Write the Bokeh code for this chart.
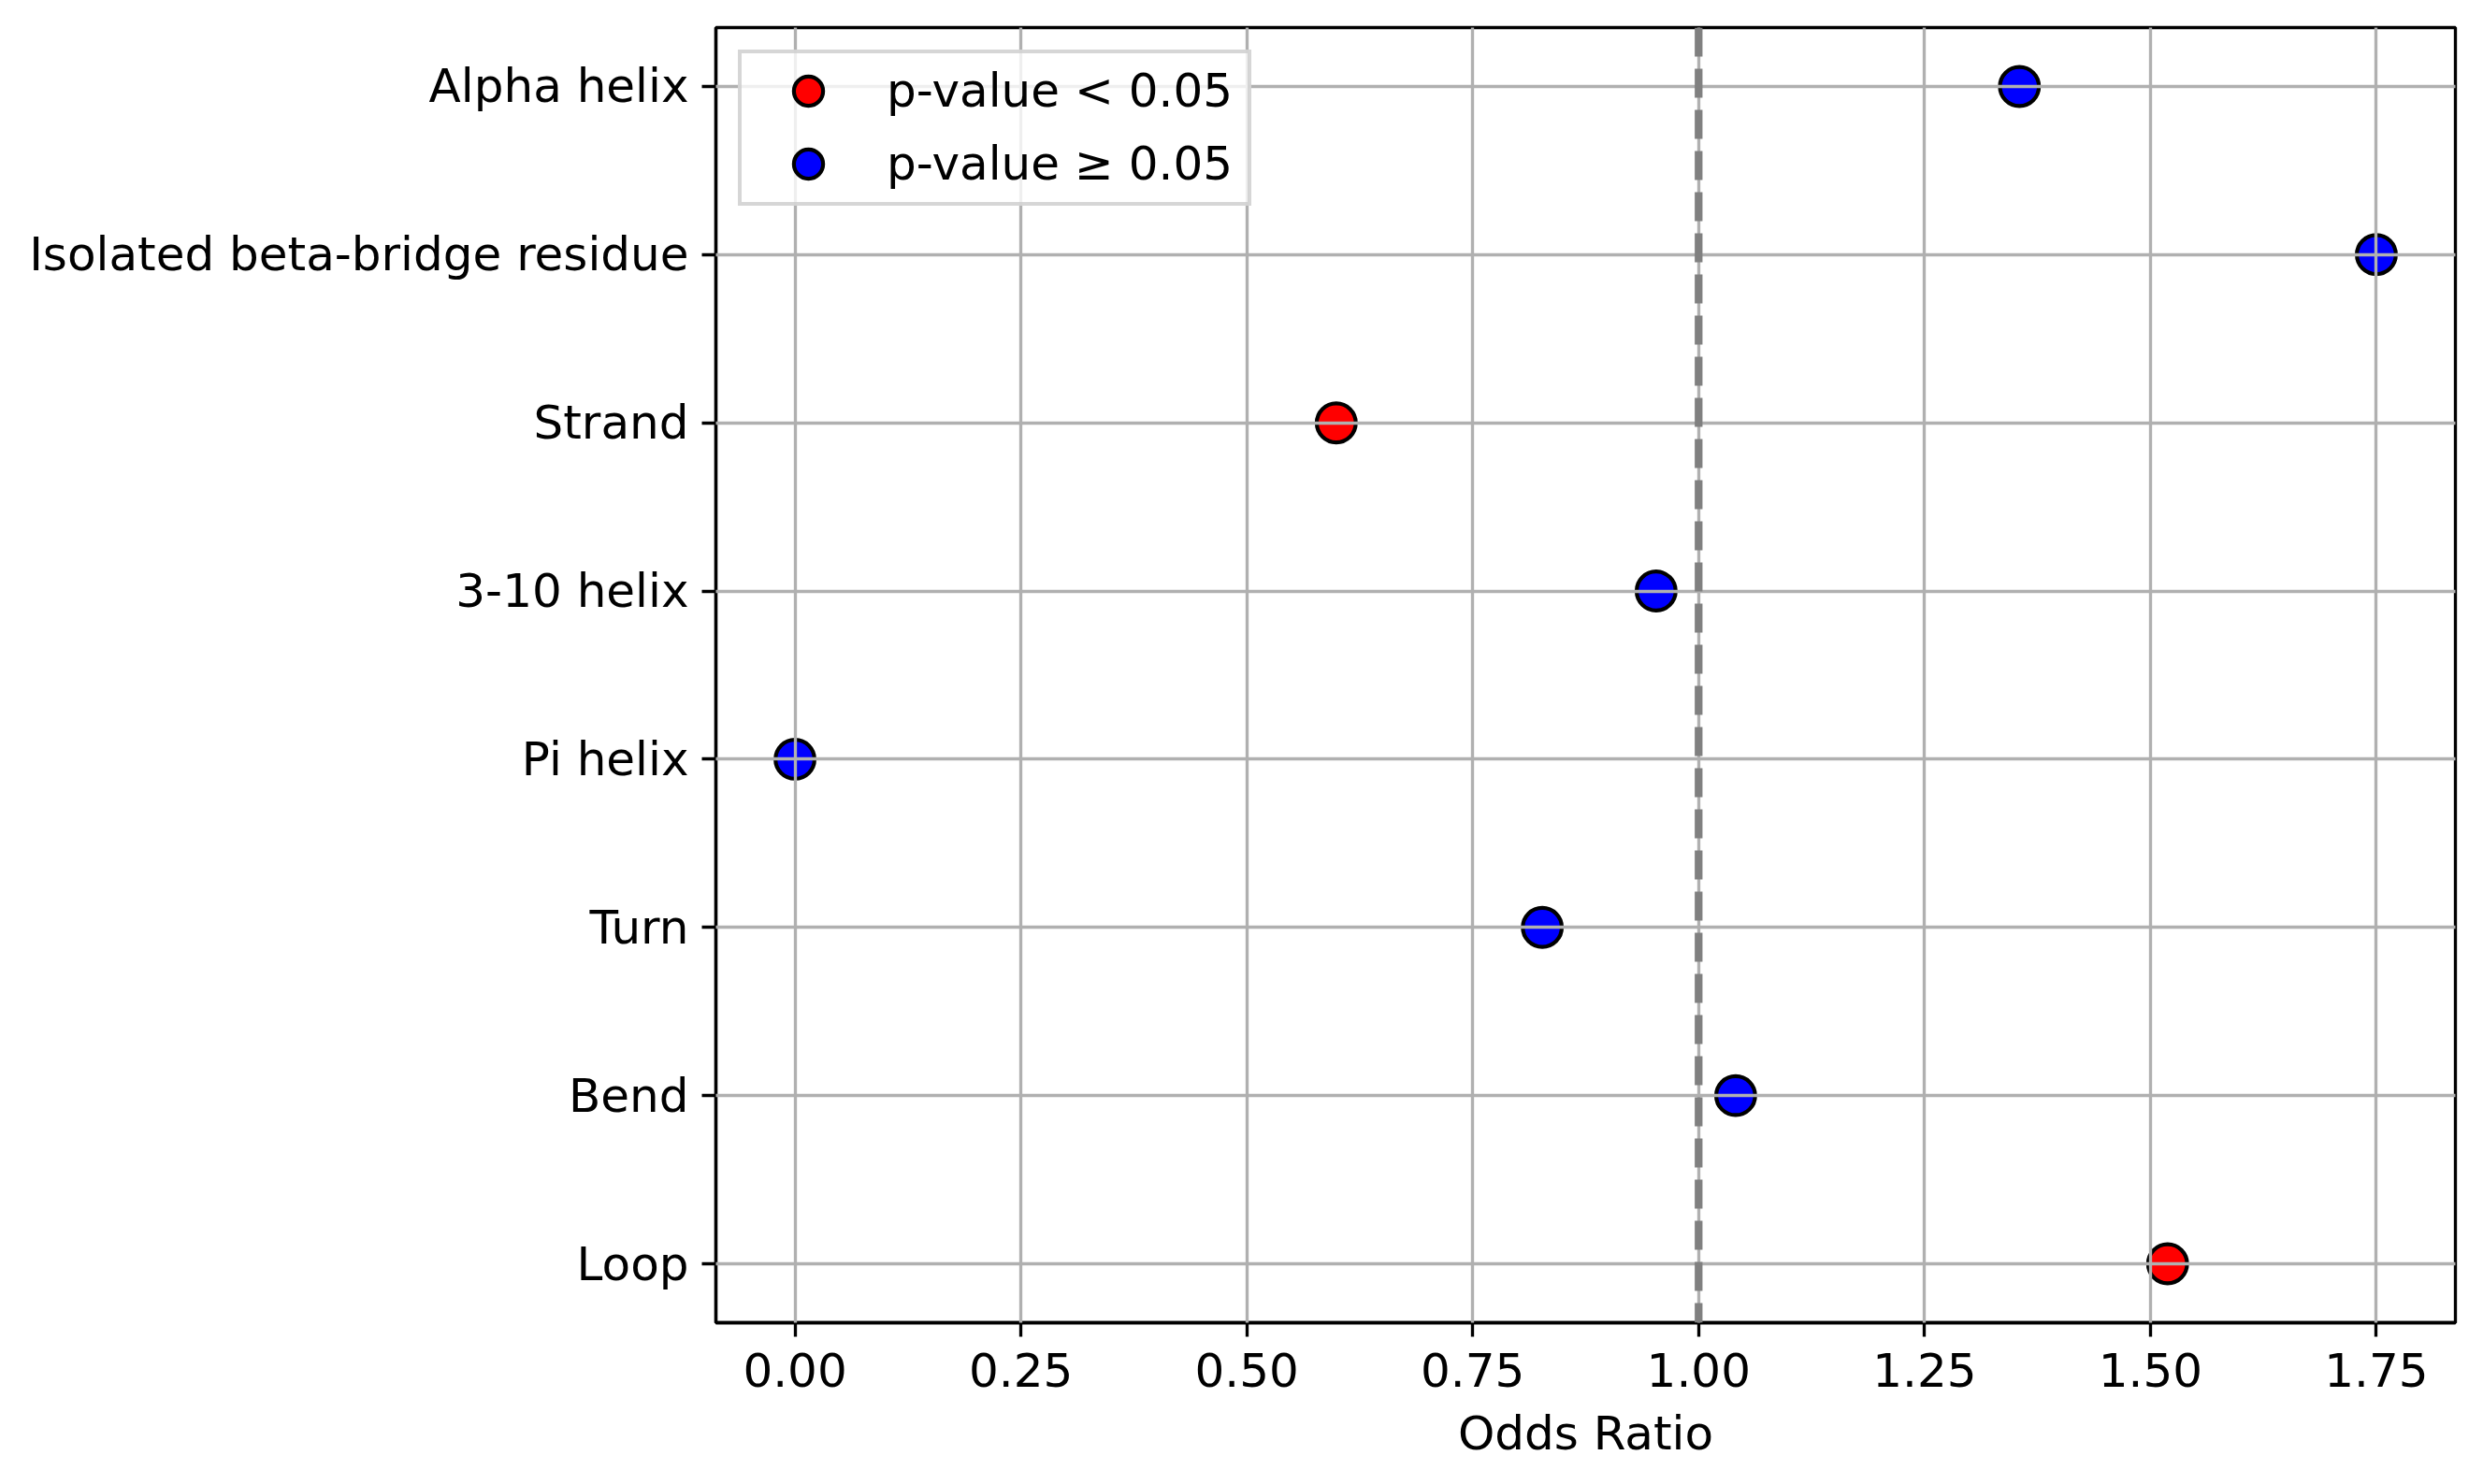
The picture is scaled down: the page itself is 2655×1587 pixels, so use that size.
from bokeh.plotting import figure
from bokeh.models import Range1d, FixedTicker, Span, NumeralTickFormatter, ColumnDataSource
from bokeh.embed import file_html
from bokeh.resources import INLINE

# ---- data ----
categories = ["Alpha helix", "Isolated beta-bridge residue", "Strand", "3-10 helix",
              "Pi helix", "Turn", "Bend", "Loop"]
odds_ratios = [1.355, 1.75, 0.599, 0.953, 0.0, 0.827, 1.041, 1.519]
significant = [False, False, True, False, False, False, False, True]
x_ticks = [0.0, 0.25, 0.5, 0.75, 1.0, 1.25, 1.5, 1.75]
reference_line = 1.0
legend_labels = ["p-value < 0.05", "p-value \u2265 0.05"]
group_colors = ["red", "blue"]

n = len(categories)
y_pos = [n - 1 - i for i in range(n)]

FONT = "DejaVu Sans"
FS = "50px"
LW = 3.33

p = figure(frame_width=1860, frame_height=1385,
           min_border_left=765, min_border_right=14, min_border_top=29, min_border_bottom=157,
           x_range=Range1d(-0.0875, 1.8375), y_range=Range1d(-0.35, 7.35),
           output_backend="svg", toolbar_location=None, background_fill_color="white",
           border_fill_color="white")

# points, split by significance
for label, color, flag in zip(legend_labels, group_colors, [True, False]):
    xs = [v for v, s in zip(odds_ratios, significant) if s == flag]
    ys = [y for y, s in zip(y_pos, significant) if s == flag]
    src = ColumnDataSource(dict(x=xs, y=ys))
    p.scatter("x", "y", source=src, size=41.7, fill_color=color, line_color="black",
              line_width=4.2, legend_label=label)

# reference line
span = Span(location=reference_line, dimension="height", line_color="#808080",
            line_width=8.3, line_dash="31 13", level="annotation")
p.add_layout(span)

# axes
p.xaxis.ticker = FixedTicker(ticks=x_ticks)
p.xaxis.formatter = NumeralTickFormatter(format="0.00")
p.yaxis.ticker = FixedTicker(ticks=y_pos)
p.yaxis.major_label_overrides = {y: c for y, c in zip(y_pos, categories)}
p.xaxis.axis_label = "Odds Ratio"

for ax in (p.xaxis, p.yaxis):
    ax.axis_line_width = LW
    ax.axis_line_color = "black"
    ax.major_tick_line_width = LW
    ax.major_tick_line_color = "black"
    ax.major_tick_out = 15
    ax.major_tick_in = 0
    ax.minor_tick_line_color = None
    ax.major_label_text_font = FONT
    ax.major_label_text_font_size = FS
    ax.major_label_text_color = "black"
    ax.axis_label_text_font = FONT
    ax.axis_label_text_font_size = FS
    ax.axis_label_text_font_style = "normal"
    ax.axis_label_text_color = "black"

p.xaxis.major_label_standoff = 17
p.yaxis.major_label_standoff = 14
p.xaxis.axis_label_standoff = 18

p.outline_line_color = "black"
p.outline_line_width = LW
p.outline_line_alpha = 1.0

p.xgrid.ticker = FixedTicker(ticks=x_ticks)
p.ygrid.ticker = FixedTicker(ticks=y_pos)
for g in (p.xgrid, p.ygrid):
    g.grid_line_color = "#b0b0b0"
    g.grid_line_width = LW
    g.level = "guide"

# legend
lg = p.legend[0]
lg.location = "top_left"
lg.margin = 24
lg.padding = dict(left=32, right=16, top=1, bottom=2)
lg.spacing = 0
lg.glyph_height = 78
lg.glyph_width = 78
lg.label_standoff = 45
lg.label_width = 363
lg.label_text_font = FONT
lg.label_text_font_size = FS
lg.label_text_color = "black"
lg.border_line_color = "#cccccc"
lg.border_line_width = 4
lg.border_line_alpha = 0.8
lg.background_fill_color = "white"
lg.background_fill_alpha = 0.8

open("out.html", "w").write(file_html(p, INLINE))
